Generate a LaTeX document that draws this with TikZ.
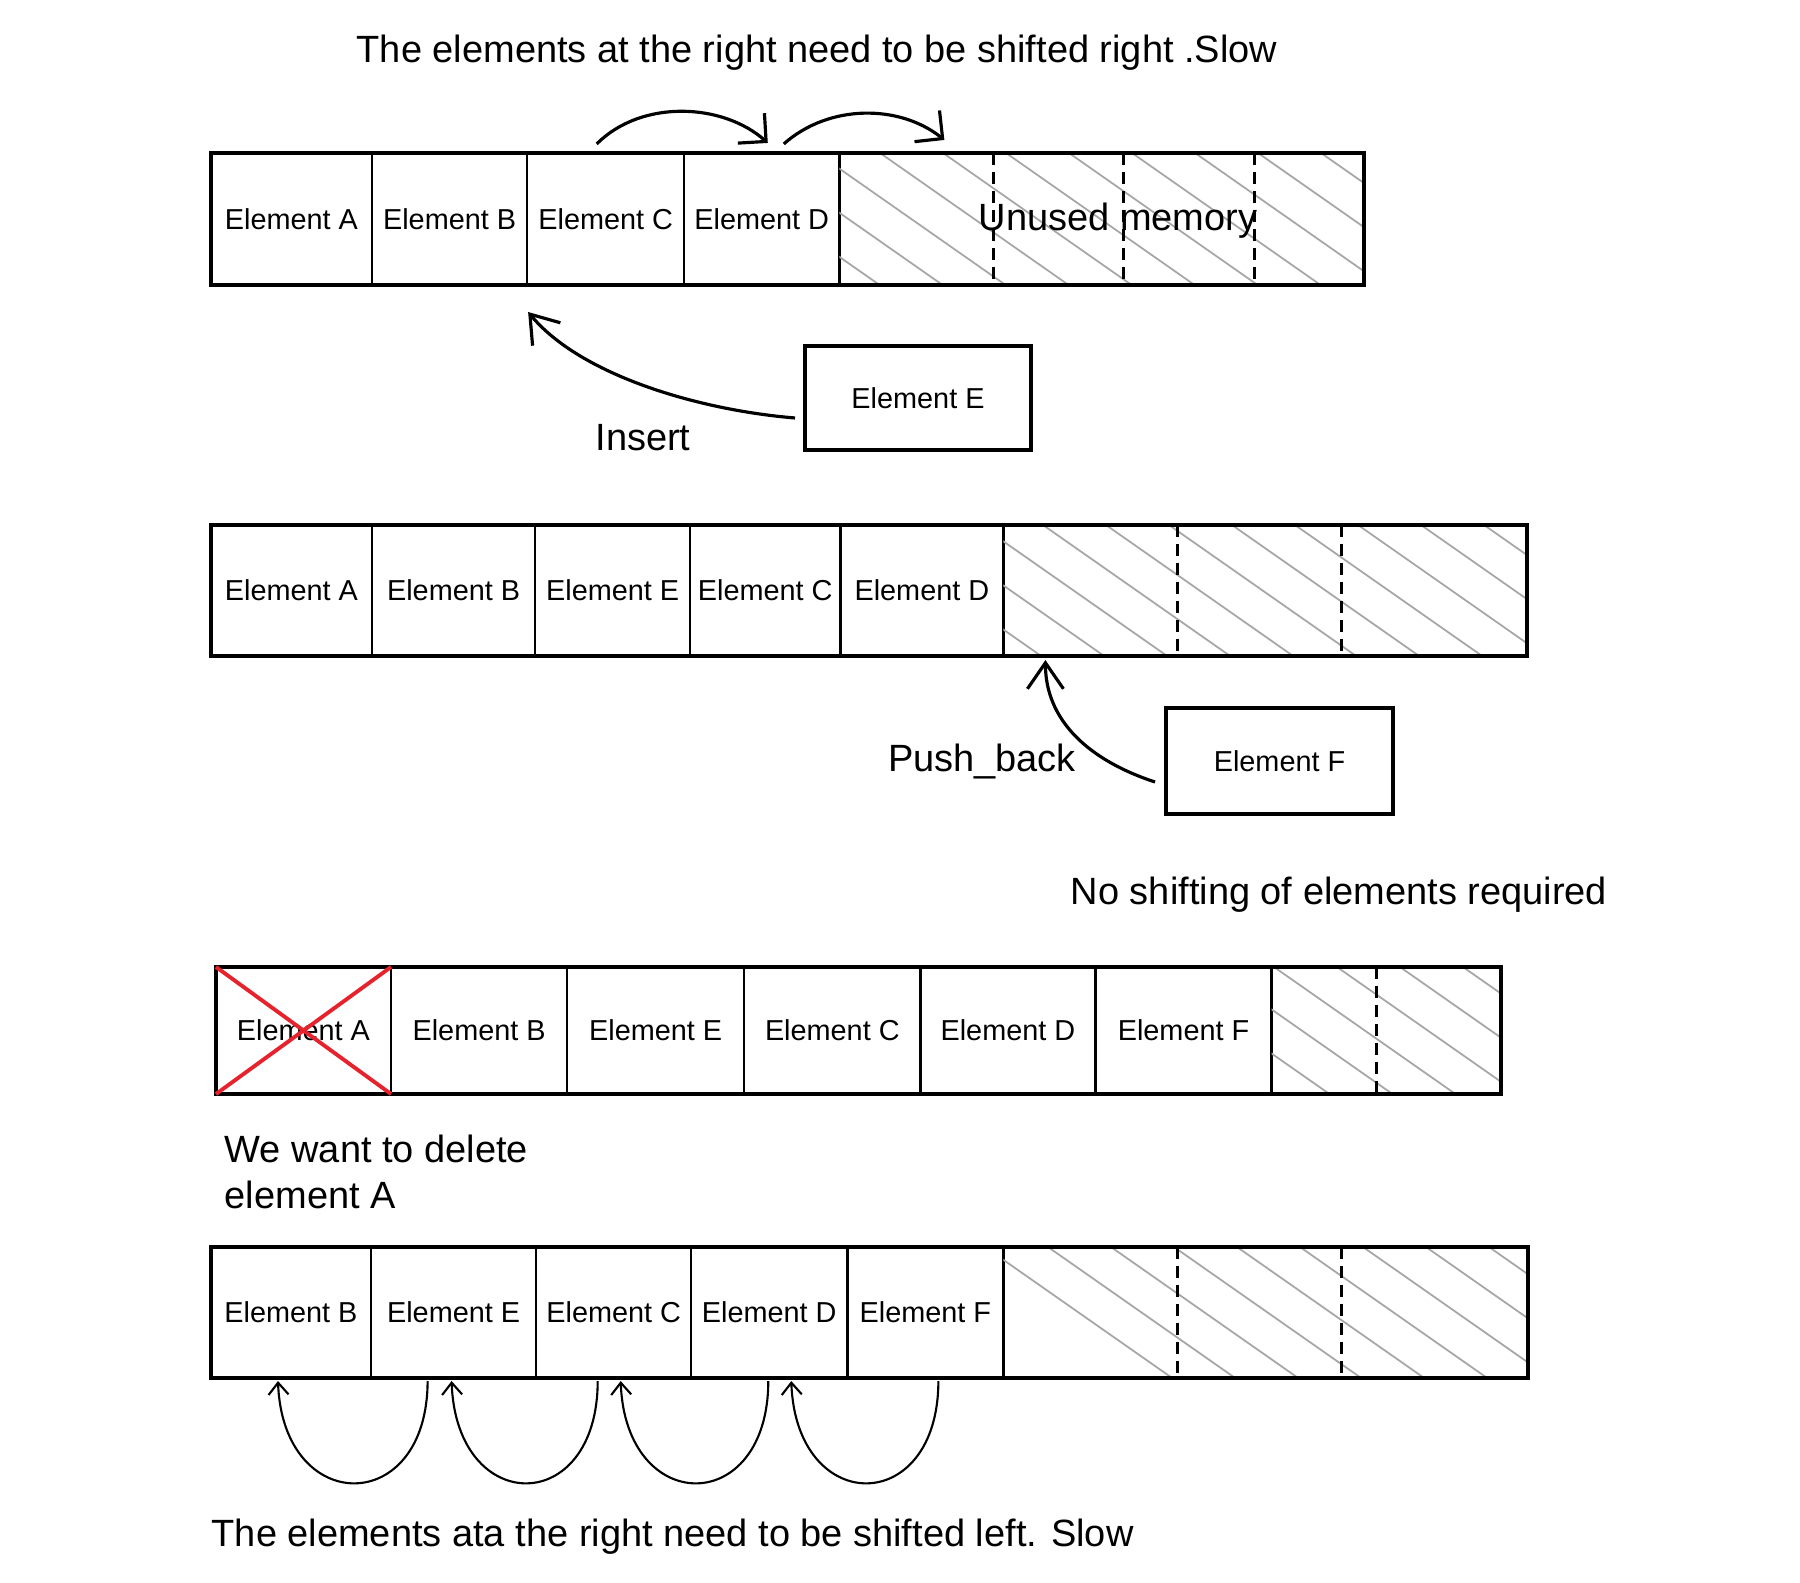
\documentclass[tikz,border=0pt]{standalone}
\usepackage{fontspec}
\setmainfont{Liberation Sans}
\usepackage{xcolor}
\usetikzlibrary{arrows.meta,positioning}
\definecolor{crossred}{RGB}{230,35,45}

\begin{document}
\begin{tikzpicture}[x=0.01cm,y=-0.01cm,
  cell/.style={draw,line width=0.7pt,inner sep=0pt,outer sep=0pt,font=\fontsize{8.2}{10}\selectfont},
  free/.style={inner sep=0pt,outer sep=0pt},
  rowframe/.style={line width=1.1pt},
  gapline/.style={line width=1pt,dash pattern=on 3.4pt off 2pt},
  hatch/.style={gray!70,line width=0.5pt},
  elbox/.style={draw,line width=1.1pt,inner sep=0pt,font=\fontsize{8.2}{10}\selectfont},
  bigtxt/.style={font=\fontsize{10.8}{13.3}\selectfont,inner sep=0pt},
  shiftarr/.style={line width=0.9pt,-{Straight Barb[length=2mm,width=4mm]}},
  insarr/.style={line width=0.9pt,-{Straight Barb[length=2.6mm,width=3.6mm]}},
  loopsarr/.style={line width=0.6pt,-{Straight Barb[length=1.2mm,width=2mm]}},
  cross/.style={crossred,line width=1.1pt}]
\useasboundingbox (0,0) rectangle (1800,1583);

% first row
\begin{scope}[every node/.append style={minimum height=1.32cm}]
\node[cell,minimum width=1.61cm] (a1) at (291.5,219) {Element A};
\node[cell,minimum width=1.55cm,right=0pt of a1] (b1) {Element B};
\node[cell,minimum width=1.57cm,right=0pt of b1] (c1) {Element C};
\node[cell,minimum width=1.55cm,right=0pt of c1] (d1) {Element D};
\node[free,minimum width=1.54cm,right=0pt of d1] (u11) {};
\node[free,minimum width=1.30cm,right=0pt of u11] (u12) {};
\node[free,minimum width=1.31cm,right=0pt of u12] (u13) {};
\node[free,minimum width=1.09cm,right=0pt of u13] (u14) {};
\end{scope}
\begin{scope}
\clip (u11.north west) rectangle (u14.south east);
\foreach \x in {565,628,...,1400} \draw[hatch] (\x,153) -- ++(260,182);
\end{scope}
\draw[gapline] (u11.north east) -- (u11.south east);
\draw[gapline] (u12.north east) -- (u12.south east);
\draw[gapline] (u13.north east) -- (u13.south east);
\draw[rowframe] (a1.north west) rectangle (u14.south east);
\node[bigtxt] (unused) at (1118,221) {Unused memory};

\node[bigtxt] (title) at (817,53) {The elements at the right need to be shifted right .Slow};
\draw[shiftarr] ([shift={(-9,-9)}]c1.north) .. controls +(45,-45) and +(-45,-40) .. ([shift={(6,-10)}]d1.north);
\draw[shiftarr] ([shift={(22,-9)}]d1.north) .. controls +(45,-40) and +(-45,-36) .. ([shift={(28,-13)}]u11.north);

% insert
\node[elbox,minimum width=2.26cm,minimum height=1.04cm] (ebox) at (918,398) {Element E};
\draw[insarr] ([shift={(-8,20)}]ebox.west) .. controls +(-97,-8) and +(52,63) .. ([shift={(1,27)}]c1.south west);
\node[bigtxt] (insert) at (643,438) {Insert};

% second row
\begin{scope}[every node/.append style={minimum height=1.31cm}]
\node[cell,minimum width=1.61cm] (a2) at (291.5,590.5) {Element A};
\node[cell,minimum width=1.63cm,right=0pt of a2] (b2) {Element B};
\node[cell,minimum width=1.55cm,right=0pt of b2] (e2) {Element E};
\node[cell,minimum width=1.50cm,right=0pt of e2] (c2) {Element C};
\node[cell,minimum width=1.63cm,right=0pt of c2] (d2) {Element D};
\node[free,minimum width=1.74cm,right=0pt of d2] (u21) {};
\node[free,minimum width=1.64cm,right=0pt of u21] (u22) {};
\node[free,minimum width=1.85cm,right=0pt of u22] (u23) {};
\end{scope}
\begin{scope}
\clip (u21.north west) rectangle (u23.south east);
\foreach \x in {665,728,...,1560} \draw[hatch] (\x,525) -- ++(260,182);
\end{scope}
\draw[gapline] (u21.north east) -- (u21.south east);
\draw[gapline] (u22.north east) -- (u22.south east);
\draw[rowframe] (a2.north west) rectangle (u23.south east);

% push back
\node[elbox,minimum width=2.27cm,minimum height=1.06cm] (fbox) at (1279.5,761) {Element F};
\draw[insarr] ([shift={(-9,21)}]fbox.west) .. controls +(-67,-22) and +(0,60) .. ([shift={(42,4)}]u21.south west);
\node[bigtxt] (pushback) at (982,762) {Push\_back};
\node[bigtxt] (noshift) at (1339,895) {No shifting of elements required};

% third row
\begin{scope}[every node/.append style={minimum height=1.27cm}]
\node[cell,minimum width=1.75cm] (a3) at (303.5,1030.5) {Element A};
\node[cell,minimum width=1.76cm,right=0pt of a3] (b3) {Element B};
\node[cell,minimum width=1.77cm,right=0pt of b3] (e3) {Element E};
\node[cell,minimum width=1.76cm,right=0pt of e3] (c3) {Element C};
\node[cell,minimum width=1.75cm,right=0pt of c3] (d3) {Element D};
\node[cell,minimum width=1.76cm,right=0pt of d3] (f3) {Element F};
\node[free,minimum width=1.05cm,right=0pt of f3] (u31) {};
\node[free,minimum width=1.24cm,right=0pt of u31] (u32) {};
\end{scope}
\begin{scope}
\clip (u31.north west) rectangle (u32.south east);
\foreach \x in {1022,1085,...,1520} \draw[hatch] (\x,967) -- ++(260,182);
\end{scope}
\draw[gapline] (u31.north east) -- (u31.south east);
\draw[rowframe] (a3.north west) rectangle (u32.south east);
\draw[cross] (a3.north west) -- (a3.south east) (a3.south west) -- (a3.north east);
\node[bigtxt,align=left,anchor=west] (delete) at (224,1172) {We want to delete\\element A};

% fourth row
\begin{scope}[every node/.append style={minimum height=1.31cm}]
\node[cell,minimum width=1.60cm] (b4) at (291,1312.5) {Element B};
\node[cell,minimum width=1.65cm,right=0pt of b4] (e4) {Element E};
\node[cell,minimum width=1.55cm,right=0pt of e4] (c4) {Element C};
\node[cell,minimum width=1.56cm,right=0pt of c4] (d4) {Element D};
\node[cell,minimum width=1.56cm,right=0pt of d4] (f4) {Element F};
\node[free,minimum width=1.74cm,right=0pt of f4] (u41) {};
\node[free,minimum width=1.64cm,right=0pt of u41] (u42) {};
\node[free,minimum width=1.86cm,right=0pt of u42] (u43) {};
\end{scope}
\begin{scope}
\clip (u41.north west) rectangle (u43.south east);
\foreach \x in {985,1048,...,1560} \draw[hatch] (\x,1247) -- ++(260,182);
\end{scope}
\draw[gapline] (u41.north east) -- (u41.south east);
\draw[gapline] (u42.north east) -- (u42.south east);
\draw[rowframe] (b4.north west) rectangle (u43.south east);

\draw[loopsarr] ([shift={(-26,3)}]e4.south) .. controls +(0,136) and +(5,136) .. ([shift={(-13,3)}]b4.south);
\draw[loopsarr] ([shift={(-16,3)}]c4.south) .. controls +(0,136) and +(5,136) .. ([shift={(-2,3)}]e4.south);
\draw[loopsarr] ([shift={(-1,3)}]d4.south) .. controls +(0,136) and +(5,136) .. ([shift={(7,3)}]c4.south);
\draw[loopsarr] ([shift={(13,3)}]f4.south) .. controls +(0,136) and +(5,136) .. ([shift={(22,3)}]d4.south);
\node[bigtxt,anchor=west] (slow) at (211,1537) {The elements ata the right need to be shifted left. Slow};
\end{tikzpicture}
\end{document}
